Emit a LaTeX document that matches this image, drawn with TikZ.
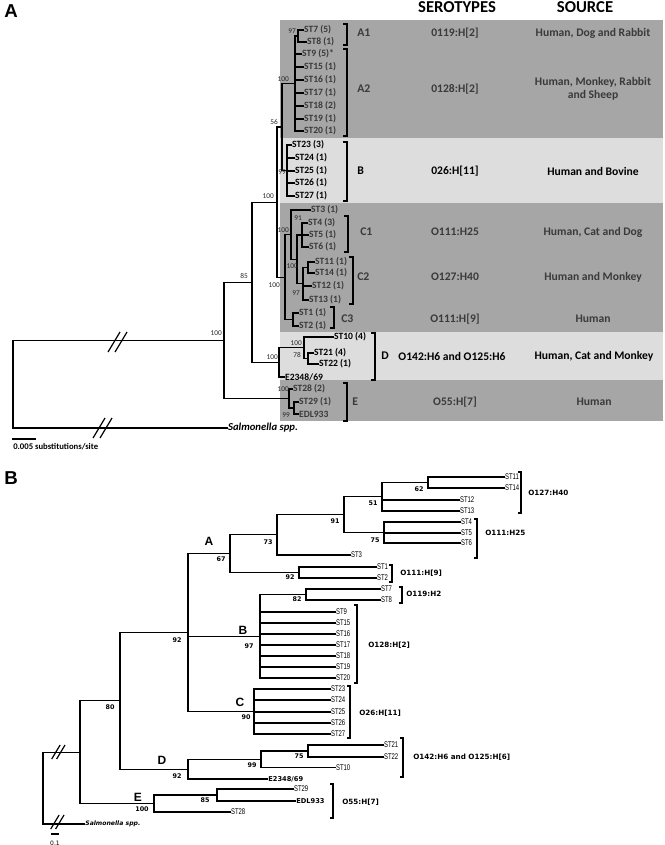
\documentclass[tikz,border=0pt]{standalone}
\usepackage{fontspec}
\setmainfont{Liberation Sans}
\newfontfamily\carlito{Carlito}
\newfontfamily\narrowf[FakeStretch=0.72]{Liberation Sans}
\newfontfamily\verdf{DejaVu Sans}
\definecolor{rowdark}{HTML}{A6A6A6}
\definecolor{rowlight}{HTML}{DDDDDD}
\definecolor{txtdark}{HTML}{3A3A3A}
\newcommand{\fs}[1]{\fontsize{#1}{#1}\selectfont}
\tikzset{
  branch/.style={line width=0.9pt, line cap=rect},
  brk/.style={line width=0.9pt},
  cut/.style={line width=0.9pt},
  panel/.style={font=\bfseries\fs{14}, inner sep=0pt},
  headA/.style={font=\carlito\bfseries\fs{12.5}, inner sep=0pt},
  stA/.style={font=\carlito\bfseries\fs{7.2}, anchor=west, inner sep=0.6pt, text=txtdark},
  stAb/.style={stA, text=black},
  bootA/.style={font=\carlito\fs{5.5}, anchor=east, inner sep=0pt, text=black!85},
  clA/.style={font=\carlito\bfseries\fs{8.8}, anchor=west, inner sep=0pt, text=txtdark},
  clAb/.style={clA, text=black},
  colA/.style={font=\carlito\bfseries\fontsize{8.7}{9.8}\selectfont, align=center, inner sep=0pt, text=txtdark},
  colAb/.style={colA, text=black},
  stB/.style={font=\narrowf\fs{6.2}, anchor=west, inner sep=0.6pt},
  stBb/.style={font=\verdf\bfseries\fs{5}, anchor=west, inner sep=0.8pt},
  bootB/.style={font=\verdf\bfseries\fs{4.8}, inner sep=0pt},
  clB/.style={font=\bfseries\fs{9}, inner sep=0pt},
  seroB/.style={font=\verdf\bfseries\fs{5.4}, anchor=west, inner sep=0pt},
}
% two slanted strokes across a cut branch
\newcommand{\slashes}[3]{\draw[cut] (#1-0.9*#3,#2+#3) -- (#1+0.3*#3,#2-#3) (#1-0.2*#3,#2+#3) -- (#1+#3,#2-#3);}
\begin{document}
\begin{tikzpicture}[x=0.75pt,y=-0.75pt]
\useasboundingbox (0,0) rectangle (664,845);

% ---------------- panel A ----------------
\node[panel] (pA) at (11,11) {A};
\node[headA] (hSero) at (457,7) {SEROTYPES};
\node[headA] (hSrc) at (585,7) {SOURCE};

\fill[rowdark] (280,20) rectangle (663,138);
\fill[rowlight] (280,138) rectangle (663,203);
\fill[rowdark] (280,203) rectangle (663,332);
\fill[rowlight] (280,332) rectangle (663,380);
\fill[rowdark] (280,380) rectangle (663,421);

% leaves
\node[stA] (a7) at (303,30) {ST7 (5)};
\node[stA] (a8) at (306,42) {ST8 (1)};
\node[stA] (a9) at (301,54) {ST9 (5)*};
\foreach \n/\c/\y in {15/1/67,16/1/80,17/1/93,18/2/106,19/1/119,20/1/131}
  \node[stA] (a\n) at (303,\y) {ST\n\ (\c)};
\node[stAb] (a23) at (291,145) {ST23 (3)};
\foreach \n/\c/\y in {24/1/158,25/1/171,26/1/183,27/1/196}
  \node[stAb] (a\n) at (294,\y) {ST\n\ (\c)};
\node[stA] (a3) at (310,210) {ST3 (1)};
\node[stA] (a4) at (307,223) {ST4 (3)};
\node[stA] (a5) at (308,235) {ST5 (1)};
\node[stA] (a6) at (308,247) {ST6 (1)};
\node[stA] (a11) at (314,262) {ST11 (1)};
\node[stA] (a14) at (314,273) {ST14 (1)};
\node[stA] (a12) at (311,286) {ST12 (1)};
\node[stA] (a13) at (308,300) {ST13 (1)};
\node[stA] (a1) at (298,313) {ST1 (1)};
\node[stA] (a2) at (298,326) {ST2 (1)};
\node[stAb] (a10) at (333,337) {ST10 (4)};
\node[stAb] (a21) at (313,353) {ST21 (4)};
\node[stAb] (a22) at (318,364) {ST22 (1)};
\node[stAb] (aE23) at (284,377) {E2348/69};
\node[stA] (a28) at (292,389) {ST28 (2)};
\node[stA] (a29) at (298,402) {ST29 (1)};
\node[stA] (aEDL) at (298,414) {EDL933};
\node[stAb, font=\carlito\bfseries\itshape\fs{8}] (salA) at (227,428) {Salmonella spp.};

% inner nodes
\coordinate (nA1) at (298,36);
\coordinate (nA) at (295,83.5);
\coordinate (nB) at (287,170.5);
\coordinate (n56) at (282,127);
\coordinate (c1) at (302,235);
\coordinate (c2a) at (308,267.5);
\coordinate (c2) at (303,283.8);
\coordinate (c12) at (297,259.4);
\coordinate (cx) at (291,234.7);
\coordinate (c3) at (293,319.5);
\coordinate (cC) at (285,277.1);
\coordinate (n100) at (277,202.1);
\coordinate (d2) at (308,358.5);
\coordinate (d1) at (304,347.8);
\coordinate (dD) at (279,362.4);
\coordinate (n85) at (252,282.2);
\coordinate (e1) at (294,408);
\coordinate (eE) at (289,398.5);
\coordinate (n100r) at (224,340.4);
\coordinate (rootA) at (13,384.2);

% branches
\draw[branch] (nA1) |- (a7.west) (nA1) |- (a8.west) (nA) |- (nA1);
\foreach \n in {9,15,16,17,18,19,20} \draw[branch] (nA) |- (a\n.west);
\foreach \n in {23,24,25,26,27} \draw[branch] (nB) |- (a\n.west);
\draw[branch] (n56) |- (nA) (n56) |- (nB);
\foreach \n in {4,5,6} \draw[branch] (c1) |- (a\n.west);
\draw[branch] (c2a) |- (a11.west) (c2a) |- (a14.west);
\draw[branch] (c2) |- (c2a) (c2) |- (a12.west) (c2) |- (a13.west);
\draw[branch] (c12) |- (c1) (c12) |- (c2);
\draw[branch] (cx) |- (a3.west) (cx) |- (c12);
\draw[branch] (c3) |- (a1.west) (c3) |- (a2.west);
\draw[branch] (cC) |- (cx) (cC) |- (c3);
\draw[branch] (n100) |- (n56) (n100) |- (cC);
\draw[branch] (d2) |- (a21.west) (d2) |- (a22.west);
\draw[branch] (d1) |- (a10.west) (d1) |- (d2);
\draw[branch] (dD) |- (d1) (dD) |- (aE23.west);
\draw[branch] (n85) |- (n100) (n85) |- (dD);
\draw[branch] (e1) |- (a29.west) (e1) |- (aEDL.west);
\draw[branch] (eE) |- (a28.west) (eE) |- (e1);
\draw[branch] (n100r) |- (n85) (n100r) |- (eE);
\draw[branch] (rootA) |- (n100r) (rootA) |- (salA.west);
\slashes{117}{342}{10}
\slashes{102}{428}{10}

% support values
\foreach \v/\x/\y in {97/296/31, 100/289/79, 56/278/122, 99/286/172, 100/274/196,
    100/289/230, 91/302/218, 100/298/266, 97/300/293, 100/280/285, 85/248/276,
    100/222/333, 100/302/343, 78/301/355, 100/278/357, 100/289/389, 99/290/415}
  \node[bootA] at (\x,\y) {\v};

% scale bar
\draw[branch] (13,439) -- (35,439);
\node[font=\carlito\bfseries\fs{6.5}, anchor=west, inner sep=0pt] (sbA) at (13,447) {0.005 substitutions/site};

% clusters
\foreach \x/\ya/\yb in {347/24/45, 347/49/136, 347/142/201, 348/216/252, 353/257/304, 334/307/328, 375/333/380, 347/383/421}
  \draw[brk] (\x-4,\ya) -- (\x,\ya) -- (\x,\yb) -- (\x-4,\yb);
\node[clA] (kA1) at (357,33) {A1};
\node[clA] (kA2) at (357,89) {A2};
\node[clAb] (kB) at (357,171) {B};
\node[clA] (kC1) at (360,232) {C1};
\node[clA] (kC2) at (357,277) {C2};
\node[clA] (kC3) at (341,319) {C3};
\node[clAb] (kD) at (381,356) {D};
\node[clA] (kE) at (352,402) {E};

\node[colA] (sA1) at (455,33) {0119:H[2]};
\node[colA] (sA2) at (455,89) {0128:H[2]};
\node[colAb] (sB) at (455,171) {026:H[11]};
\node[colA] (sC1) at (455,232) {O111:H25};
\node[colA] (sC2) at (455,277) {O127:H40};
\node[colA] (sC3) at (455,319) {O111:H[9]};
\node[colAb] (sD) at (452,356) {O142:H6 and O125:H6};
\node[colA] (sE) at (455,402) {O55:H[7]};

\node[colA] (oA1) at (593,33) {Human, Dog and Rabbit};
\node[colA] (oA2) at (593,89) {Human, Monkey, Rabbit\\and Sheep};
\node[colAb] (oB) at (593,171) {Human and Bovine};
\node[colA] (oC1) at (593,232) {Human, Cat and Dog};
\node[colA] (oC2) at (593,277) {Human and Monkey};
\node[colA] (oC3) at (593,319) {Human};
\node[colAb] (oD) at (594,356) {Human, Cat and Monkey};
\node[colA] (oE) at (594,402) {Human};

% ---------------- panel B ----------------
\node[panel] (pB) at (11,478) {B};

\node[stB] (b11) at (504,477) {ST11};
\node[stB] (b14) at (504,488) {ST14};
\node[stB] (b12) at (459,500) {ST12};
\node[stB] (b13) at (459,511) {ST13};
\node[stB] (b4) at (460,522) {ST4};
\node[stB] (b5) at (460,533) {ST5};
\node[stB] (b6) at (460,543) {ST6};
\node[stB] (b3) at (350,555) {ST3};
\node[stB] (b1) at (376,567) {ST1};
\node[stB] (b2) at (376,578) {ST2};
\node[stB] (b7) at (380,589) {ST7};
\node[stB] (b8) at (380,600) {ST8};
\foreach \n/\y in {9/612,15/623,16/634,17/645,18/656,19/667,20/678}
  \node[stB] (b\n) at (335,\y) {ST\n};
\foreach \n/\y in {23/689,24/700,25/712,26/723,27/734}
  \node[stB] (b\n) at (330,\y) {ST\n};
\node[stB] (b21) at (383,745) {ST21};
\node[stB] (b22) at (383,757) {ST22};
\node[stB] (b10) at (335,767.5) {ST10};
\node[stBb] (bE23) at (267,779) {E2348/69};
\node[stB] (b29) at (293,789) {ST29};
\node[stBb] (bEDL) at (295,801) {EDL933};
\node[stB] (b28) at (230,812) {ST28};
\node[stBb, font=\verdf\bfseries\itshape\fs{4.6}] (salB) at (84,824) {Salmonella spp.};

\coordinate (m62) at (428,482.5);
\coordinate (m51) at (382,496.8);
\coordinate (m75) at (384,532.5);
\coordinate (m91) at (344,514.6);
\coordinate (m73) at (277,534.8);
\coordinate (m92b) at (299,572.5);
\coordinate (mA) at (230,553.6);
\coordinate (m82) at (306,594.5);
\coordinate (mB) at (260,636.2);
\coordinate (mC) at (254,711.5);
\coordinate (m92) at (188,632.5);
\coordinate (m75d) at (308,751);
\coordinate (m99) at (261,759.2);
\coordinate (mD) at (188,769.1);
\coordinate (m80) at (120,700.8);
\coordinate (m85) at (217,795);
\coordinate (mE) at (154,803.5);
\coordinate (mR) at (80,752.2);
\coordinate (rootB) at (43,788);

\draw[branch] (m62) |- (b11.west) (m62) |- (b14.west);
\draw[branch] (m51) |- (m62) (m51) |- (b12.west) (m51) |- (b13.west);
\foreach \n in {4,5,6} \draw[branch] (m75) |- (b\n.west);
\draw[branch] (m91) |- (m51) (m91) |- (m75);
\draw[branch] (m73) |- (m91) (m73) |- (b3.west);
\draw[branch] (m92b) |- (b1.west) (m92b) |- (b2.west);
\draw[branch] (mA) |- (m73) (mA) |- (m92b);
\draw[branch] (m82) |- (b7.west) (m82) |- (b8.west) (mB) |- (m82);
\foreach \n in {9,15,16,17,18,19,20} \draw[branch] (mB) |- (b\n.west);
\foreach \n in {23,24,25,26,27} \draw[branch] (mC) |- (b\n.west);
\draw[branch] (m92) |- (mA) (m92) |- (mB) (m92) |- (mC);
\draw[branch] (m75d) |- (b21.west) (m75d) |- (b22.west);
\draw[branch] (m99) |- (m75d) (m99) |- (b10.west);
\draw[branch] (mD) |- (m99) (mD) |- (bE23.west);
\draw[branch] (m80) |- (m92) (m80) |- (mD);
\draw[branch] (m85) |- (b29.west) (m85) |- (bEDL.west);
\draw[branch] (mE) |- (m85) (mE) |- (b28.west);
\draw[branch] (mR) |- (m80) (mR) |- (mE);
\draw[branch] (rootB) |- (mR) (rootB) |- (salB.west);
\slashes{58}{752}{7}
\slashes{57}{822}{7}

\foreach \v/\x/\y in {62/419/489, 51/373/503, 91/335/521, 75/375/540, 73/268/542,
    67/221/559, 92/290/577, 82/297/599, 97/249/646, 92/177/640, 90/246/717,
    80/110/707, 92/177/776, 99/252/765, 75/299/756, 100/142/809, 85/205/800}
  \node[bootB] at (\x,\y) {\v};

\node[clB] (kbA) at (209,541) {A};
\node[clB] (kbB) at (243,630) {B};
\node[clB] (kbC) at (240,702) {C};
\node[clB] (kbD) at (162,760) {D};
\node[clB] (kbE) at (138,797) {E};

\draw[branch] (52,834) -- (58,834);
\node[font=\verdf\fs{4.5}, inner sep=0pt] (sbB) at (55,843) {0.1};

\foreach \x/\ya/\yb in {521/472/513, 477/519/558, 392/565/582, 402/587/603, 357/605/683, 350/686/738, 403/738/777, 333/784/818}
  \draw[brk] (\x-3,\ya) -- (\x,\ya) -- (\x,\yb) -- (\x-3,\yb);
\node[seroB] (gC2) at (528,493) {O127:H40};
\node[seroB] (gC1) at (485,533) {O111:H25};
\node[seroB] (gC3) at (400,573) {O111:H[9]};
\node[seroB] (gA1) at (406,594) {O119:H2};
\node[seroB] (gA2) at (368,645) {O128:H[2]};
\node[seroB] (gB) at (359,713) {O26:H[11]};
\node[seroB] (gD) at (413,757) {O142:H6 and O125:H[6]};
\node[seroB] (gE) at (342,802) {O55:H[7]};
\end{tikzpicture}
\end{document}
